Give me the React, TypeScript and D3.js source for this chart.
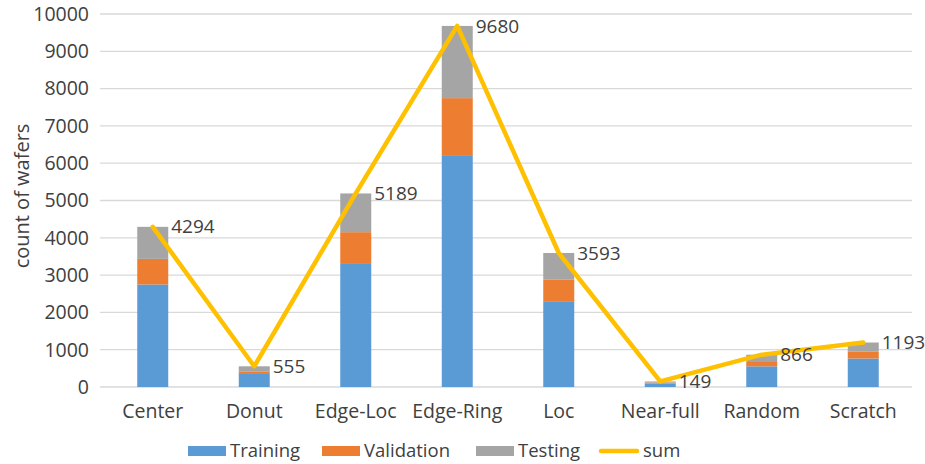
import { useEffect, useRef } from 'react'
import * as d3 from 'd3'

const categories = ['Center', 'Donut', 'Edge-Loc', 'Edge-Ring', 'Loc', 'Near-full', 'Random', 'Scratch']
const training = [2748, 350, 3321, 6195, 2300, 95, 554, 764]
const validation = [687, 70, 830, 1549, 575, 24, 139, 191]
const testing = [859, 135, 1038, 1936, 718, 30, 173, 238]
const sums = [4294, 555, 5189, 9680, 3593, 149, 866, 1193]
const yTicks = [0, 1000, 2000, 3000, 4000, 5000, 6000, 7000, 8000, 9000, 10000]
const seriesNames = ['Training', 'Validation', 'Testing']
const seriesColors = ['#5B9BD5', '#ED7D31', '#A5A5A5']
const lineName = 'sum'
const lineColor = '#FFC000'

export default function App() {
    const svgRef = useRef<SVGSVGElement>(null)

    useEffect(() => {
        if (!svgRef.current) return
        const width = 925
        const height = 464
        const margin = { top: 14, right: 11, bottom: 77, left: 102 }
        const font = '"Open Sans", sans-serif'
        const textColor = '#404040'

        const svg = d3.select(svgRef.current)
        svg.attr('width', width).attr('height', height)
        svg.selectAll('*').remove()
        svg.append('rect').attr('width', width).attr('height', height).attr('fill', '#fff')

        const x = d3.scaleBand()
            .domain(categories)
            .range([margin.left, width - margin.right])
            .padding(0)
        const y = d3.scaleLinear()
            .domain([0, 10000])
            .range([height - margin.bottom, margin.top])
        const barWidth = 31

        // gridlines
        svg.append('g')
            .selectAll('line')
            .data(yTicks)
            .enter()
            .append('line')
            .attr('x1', 100)
            .attr('x2', width - 13)
            .attr('y1', d => y(d))
            .attr('y2', d => y(d))
            .attr('stroke', '#D9D9D9')
            .attr('stroke-width', 1.3)

        // y tick labels
        svg.append('g')
            .selectAll('text')
            .data(yTicks)
            .enter()
            .append('text')
            .attr('x', 89)
            .attr('y', d => y(d))
            .attr('dy', '0.35em')
            .attr('text-anchor', 'end')
            .attr('font-family', font)
            .attr('font-size', '19.5px')
            .attr('fill', textColor)
            .text(d => d)

        svg.append('text')
            .attr('transform', `translate(29,196) rotate(-90)`)
            .attr('text-anchor', 'middle')
            .attr('font-family', font)
            .attr('font-size', '20px')
            .attr('fill', textColor)
            .text('count of wafers')

        // stacked bars
        const rows = categories.map((c, i) => ({ cat: c, Training: training[i], Validation: validation[i], Testing: testing[i] }))
        const stack = d3.stack<any>().keys(seriesNames)(rows)
        stack.forEach((layer, li) => {
            svg.append('g')
                .selectAll('rect')
                .data(layer)
                .enter()
                .append('rect')
                .attr('x', d => (x(d.data.cat) || 0) + x.bandwidth() / 2 - barWidth / 2)
                .attr('y', d => y(d[1]))
                .attr('width', barWidth)
                .attr('height', d => y(d[0]) - y(d[1]))
                .attr('fill', seriesColors[li])
        })

        // category labels
        svg.append('g')
            .selectAll('text')
            .data(categories)
            .enter()
            .append('text')
            .attr('x', d => (x(d) || 0) + x.bandwidth() / 2)
            .attr('y', 411)
            .attr('dy', '0.35em')
            .attr('text-anchor', 'middle')
            .attr('font-family', font)
            .attr('font-size', '19.5px')
            .attr('fill', textColor)
            .text(d => d)

        // sum line
        const line = d3.line<number>()
            .x((_, i) => (x(categories[i]) || 0) + x.bandwidth() / 2)
            .y(d => y(d))
        svg.append('path')
            .datum(sums)
            .attr('fill', 'none')
            .attr('stroke', lineColor)
            .attr('stroke-width', 4.5)
            .attr('stroke-linejoin', 'round')
            .attr('stroke-linecap', 'round')
            .attr('d', line)

        // data labels
        svg.append('g')
            .selectAll('text')
            .data(sums)
            .enter()
            .append('text')
            .attr('x', (_, i) => (x(categories[i]) || 0) + x.bandwidth() / 2 + barWidth / 2 + 3)
            .attr('y', d => y(d))
            .attr('dy', '0.35em')
            .attr('font-family', font)
            .attr('font-size', '19px')
            .attr('fill', textColor)
            .text(d => d)

        // legend
        const legend = svg.append('g').attr('transform', 'translate(0,451)')
        const swatchX = [188, 322, 476]
        seriesNames.forEach((name, i) => {
            legend.append('rect')
                .attr('x', swatchX[i])
                .attr('y', -5)
                .attr('width', 38)
                .attr('height', 10)
                .attr('fill', seriesColors[i])
            legend.append('text')
                .attr('x', swatchX[i] + 42)
                .attr('y', 0)
                .attr('dy', '0.35em')
                .attr('font-family', font)
                .attr('font-size', '18.5px')
                .attr('fill', textColor)
                .text(name)
        })
        legend.append('line')
            .attr('x1', 601)
            .attr('x2', 637)
            .attr('y1', 0)
            .attr('y2', 0)
            .attr('stroke', lineColor)
            .attr('stroke-width', 4.5)
            .attr('stroke-linecap', 'round')
        legend.append('text')
            .attr('x', 643)
            .attr('y', 0)
            .attr('dy', '0.35em')
            .attr('font-family', font)
            .attr('font-size', '18.5px')
            .attr('fill', textColor)
            .text(lineName)
    }, [])

    return <svg ref={svgRef} style={{ position: 'absolute', left: 0, top: 0, display: 'block' }} />
}
